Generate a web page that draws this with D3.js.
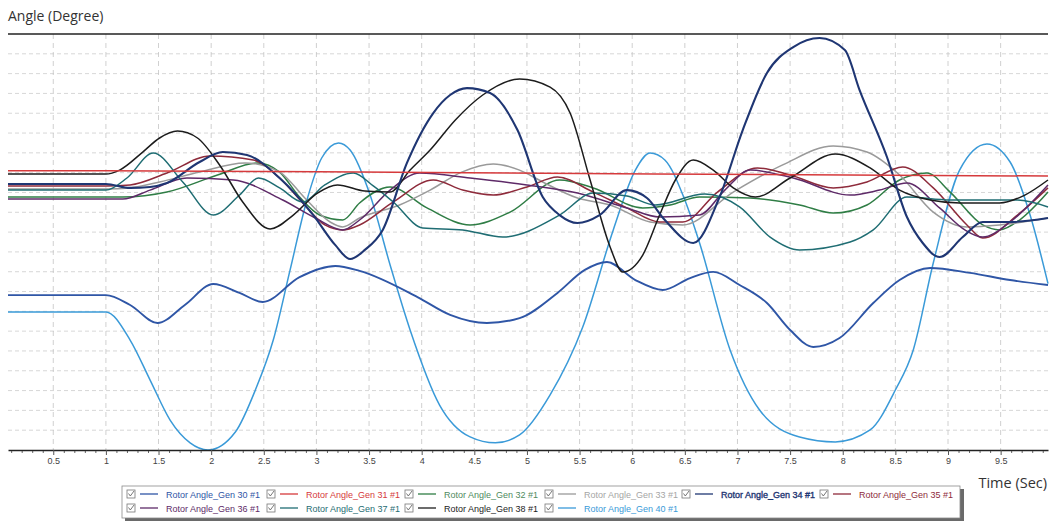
<!DOCTYPE html>
<html>
<head>
    <title>Rotor Angle</title>
    <script src="https://cdn.jsdelivr.net/npm/d3@7/dist/d3.min.js"></script>
    <style>
        body { margin: 0; background: #fff; }
    </style>
</head>
<body>
    <svg width="1053" height="523" id="mainsvg"></svg>
    <script>
        // values: [time (s), angle (deg)]
        const gen30 = [[0.07,-31.8],[1.0,-31.8],[1.23,-36.8],[1.49,-45.9],[1.75,-36.8],[2.02,-26.2],[2.27,-30.7],[2.49,-35.3],[2.84,-22.7],[3.18,-17.1],[3.41,-19.6],[3.96,-32.8],[4.27,-41.8],[4.62,-45.9],[4.93,-43.4],[5.29,-30.7],[5.55,-19.1],[5.76,-15.1],[6.03,-24.2],[6.29,-29.2],[6.55,-23.2],[6.77,-20.1],[7.02,-26.7],[7.28,-35.8],[7.50,-49.4],[7.72,-58.0],[7.97,-53.5],[8.29,-35.8],[8.54,-24.2],[8.83,-18.1],[9.21,-20.6],[9.59,-24.2],[9.95,-26.7]];
        const gen31 = [[0.07,31],[1.0,31],[3.4,30.3],[6.2,29.3],[9.95,28.3]];
        const gen32 = [[0.07,17.7],[1.0,17.7],[1.16,17.7],[1.58,20.2],[2.06,28.8],[2.44,34.9],[2.65,30.3],[2.84,17.7],[3.03,8.6],[3.25,6.1],[3.41,14.7],[3.70,22.8],[4.05,12.2],[4.46,3.6],[4.84,10.1],[5.31,26.3],[5.63,22.3],[6.10,12.2],[6.36,13.7],[6.64,17.7],[7.12,17.2],[7.59,13.7],[7.91,9.6],[8.23,13.7],[8.54,26.3],[8.80,29.8],[9.02,20.2],[9.33,3.6],[9.49,1.1],[9.68,6.1],[9.95,20.2]];
        const gen33 = [[0.07,21.8],[1.0,21.8],[1.23,22.3],[1.51,25.3],[1.89,30.3],[2.32,34.9],[2.65,30.3],[2.89,17.2],[3.13,5.1],[3.25,2.6],[3.41,7.1],[3.79,13.7],[4.08,21.2],[4.38,30.3],[4.68,34.4],[4.93,31.3],[5.15,25.3],[5.48,17.2],[5.79,13.7],[6.17,5.1],[6.48,3.6],[6.96,20.2],[7.43,33.9],[7.91,43.5],[8.23,40.4],[8.54,28.8],[8.86,10.1],[9.18,2.6],[9.49,3.6],[9.95,7.1]];
        const gen34 = [[0.07,24.3],[1.0,24.3],[1.23,22.3],[1.42,22.8],[1.58,24.8],[1.89,35.4],[2.11,40.4],[2.34,38.9],[2.65,27.3],[2.97,8.6],[3.18,-6.6],[3.32,-13.6],[3.46,-9.0],[3.63,1.1],[3.86,34.9],[4.11,60.1],[4.27,69.2],[4.43,72.7],[4.65,70.2],[4.91,51.5],[5.15,17.7],[5.31,8.6],[5.48,4.6],[5.69,8.6],[5.95,21.2],[6.14,17.2],[6.31,6.1],[6.58,-5.5],[6.83,17.7],[7.05,51.5],[7.28,80.3],[7.53,93.4],[7.78,98.0],[8.02,91.9],[8.16,71.7],[8.42,37.9],[8.61,7.6],[8.76,-5.5],[8.92,-12.6],[9.14,-2.5],[9.33,5.1],[9.59,5.1],[9.95,7.1]];
        const gen35 = [[0.07,23.3],[1.0,23.3],[1.23,23.8],[1.58,29.8],[1.99,38.4],[2.40,36.4],[2.65,27.3],[2.87,14.7],[3.08,3.6],[3.25,1.1],[3.41,3.6],[3.73,15.2],[4.11,26.3],[4.39,21.2],[4.68,18.7],[5.00,22.8],[5.29,27.8],[5.63,20.2],[5.95,12.2],[6.26,5.1],[6.48,5.1],[6.81,20.2],[7.19,32.4],[7.50,28.8],[7.91,22.3],[8.23,25.3],[8.57,32.9],[8.86,22.3],[9.18,3.6],[9.33,-3.0],[9.66,8.6],[9.95,22.3]];
        const gen36 = [[0.07,16.7],[1.0,16.7],[1.16,16.7],[1.42,21.2],[1.77,27.3],[2.21,26.3],[2.68,16.2],[2.99,7.1],[3.25,1.1],[3.41,6.1],[3.70,21.2],[3.98,29.8],[4.46,27.3],[5.00,23.8],[5.48,19.7],[5.95,12.2],[6.26,7.6],[6.64,8.6],[6.88,21.2],[7.12,31.3],[7.53,27.3],[8.07,18.7],[8.35,21.2],[8.61,24.8],[8.92,12.2],[9.16,1.1],[9.33,-2.5],[9.59,5.1],[9.95,23.8]];
        const gen37 = [[0.07,21.2],[1.0,21.2],[1.20,27.3],[1.45,39.9],[1.73,25.3],[2.02,8.6],[2.27,18.7],[2.45,27.3],[2.65,22.3],[2.87,15.2],[3.08,23.8],[3.35,29.8],[3.54,23.3],[3.73,15.2],[4.01,2.1],[4.39,1.1],[4.77,-2.5],[5.31,8.6],[5.63,19.7],[5.95,18.2],[6.22,13.7],[6.69,19.2],[7.02,12.7],[7.31,-2.5],[7.59,-9.0],[8.07,-5.0],[8.29,1.1],[8.61,17.7],[9.02,16.2],[9.66,16.2],[9.95,12.7]];
        const gen38 = [[0.07,29.3],[1.0,29.3],[1.13,31.3],[1.35,40.4],[1.51,47.5],[1.68,51.0],[1.87,47.5],[2.08,33.9],[2.30,15.2],[2.56,1.6],[2.78,8.6],[3.01,19.7],[3.20,23.8],[3.46,20.7],[3.70,20.2],[3.89,31.3],[4.08,41.4],[4.32,56.6],[4.58,69.2],[4.93,77.3],[5.22,73.2],[5.41,60.1],[5.60,26.3],[5.79,-7.5],[5.91,-20.1],[6.10,-11.6],[6.26,8.6],[6.41,26.3],[6.58,36.4],[6.77,31.3],[6.96,22.3],[7.17,17.7],[7.50,27.3],[7.93,39.4],[8.26,32.4],[8.54,21.2],[8.83,16.2],[9.11,14.7],[9.49,14.7],[9.73,18.7],[9.95,26.3]];
        const gen40 = [[0.07,-40.3],[1.0,-40.3],[1.23,-54.5],[1.42,-74.7],[1.61,-94.9],[1.80,-106.4],[1.97,-110],[2.23,-100.9],[2.42,-79.7],[2.59,-54.5],[2.75,-19.1],[2.91,16.2],[3.05,37.4],[3.21,45.0],[3.32,41.4],[3.51,18.7],[3.70,-16.6],[3.89,-49.4],[4.17,-87.3],[4.46,-103.4],[4.70,-106.4],[4.93,-102.4],[5.22,-82.2],[5.53,-47.9],[5.82,1.1],[6.03,31.3],[6.17,39.9],[6.31,36.4],[6.50,16.2],[6.64,-5.5],[6.93,-59.5],[7.21,-89.8],[7.59,-103.4],[7.93,-105.9],[8.26,-99.9],[8.50,-79.7],[8.67,-59.5],[8.86,-15.6],[9.11,31.3],[9.37,44.5],[9.59,35.4],[9.78,8.6],[9.95,-26.0]];

        const seriesNames = ['Rotor Angle_Gen 30 #1', 'Rotor Angle_Gen 31 #1', 'Rotor Angle_Gen 32 #1', 'Rotor Angle_Gen 33 #1', 'Rotor Angle_Gen 34 #1',
            'Rotor Angle_Gen 35 #1', 'Rotor Angle_Gen 36 #1', 'Rotor Angle_Gen 37 #1', 'Rotor Angle_Gen 38 #1', 'Rotor Angle_Gen 40 #1'];
        const seriesColors = ['#2f56a6', '#d63a3c', '#2f7d45', '#9a9a9a', '#1f3673', '#8e2b3b', '#5e2a68', '#1f6d73', '#1c1c1c', '#3a9ad8'];
        const timeTicks = [0.5, 1, 1.5, 2, 2.5, 3, 3.5, 4, 4.5, 5, 5.5, 6, 6.5, 7, 7.5, 8, 8.5, 9, 9.5];

        const allSeries = [gen30, gen31, gen32, gen33, gen34, gen35, gen36, gen37, gen38, gen40];

        const svg = d3.select('svg');
        const x = d3.scaleLinear().domain([0.07, 9.95]).range([8, 1048]);
        const y = d3.scaleLinear().domain([-110, 100]).range([450, 34]);

        // grid
        svg.append('g').selectAll('line').data(d3.range(-100, 100, 10)).join('line')
            .attr('x1', x(0.07)).attr('x2', x(9.95))
            .attr('y1', d => y(d)).attr('y2', d => y(d))
            .attr('stroke', '#cdcdcd').attr('stroke-width', 0.8).attr('stroke-dasharray', '4,3');
        svg.append('g').selectAll('line').data(timeTicks).join('line')
            .attr('x1', d => x(d)).attr('x2', d => x(d))
            .attr('y1', y(100)).attr('y2', y(-110))
            .attr('stroke', '#c4c4c4').attr('stroke-width', 0.8).attr('stroke-dasharray', '5,4');

        // top border
        svg.append('line')
            .attr('x1', x(0.07)).attr('x2', x(9.95)).attr('y1', y(100)).attr('y2', y(100))
            .attr('stroke', '#222').attr('stroke-width', 1.4);

        // curves
        const line = d3.line().x(d => x(d[0])).y(d => y(d[1])).curve(d3.curveMonotoneX);
        const drawOrder = [9, 0, 2, 3, 5, 6, 7, 8, 4, 1];
        svg.append('g').selectAll('path').data(drawOrder).join('path')
            .attr('fill', 'none')
            .attr('stroke', i => seriesColors[i])
            .attr('stroke-width', i => i === 4 ? 2.1 : (i === 0 ? 1.9 : 1.5))
            .attr('d', i => line(allSeries[i]));

        // x axis
        const minorTicks = d3.range(1, 100).map(d => d / 10).filter(d => d % 0.5 !== 0 && d < 9.95);
        svg.append('g').attr('transform', 'translate(0,450)')
            .call(d3.axisBottom(x).tickValues(minorTicks).tickSize(3).tickFormat('').tickSizeOuter(0))
            .call(g => g.select('.domain').remove())
            .call(g => g.selectAll('.tick line').attr('stroke', '#666'));
        const xAxis = svg.append('g').attr('transform', 'translate(0,450)')
            .call(d3.axisBottom(x).tickValues(timeTicks).tickSize(5).tickSizeOuter(0).tickFormat(d3.format('~g')));
        xAxis.select('.domain').attr('stroke', '#222').attr('stroke-width', 1.6);
        xAxis.selectAll('.tick line').attr('stroke', '#555');
        xAxis.selectAll('.tick text').attr('font-family', 'Liberation Sans, Arial, sans-serif')
            .attr('font-size', 9).attr('fill', '#444');

        // titles
        svg.append('text').attr('x', 8).attr('y', 21)
            .attr('font-family', 'Open Sans, Noto Sans, sans-serif').attr('font-size', 14).attr('fill', '#333')
            .text('Angle (Degree)');
        svg.append('text').attr('x', 1047).attr('y', 488).attr('text-anchor', 'end')
            .attr('font-family', 'Open Sans, Noto Sans, sans-serif').attr('font-size', 14.5).attr('fill', '#333')
            .text('Time (Sec)');

        // legend
        const legendCols = [127, 267, 405, 545, 682, 820];
        const legendRows = [498, 512];
        svg.append('rect').attr('x', 125).attr('y', 489).attr('width', 839).attr('height', 32).attr('fill', '#6a6a6a');
        svg.append('rect').attr('x', 122).attr('y', 486).attr('width', 838).attr('height', 32)
            .attr('fill', '#fff').attr('stroke', '#8a8a8a').attr('stroke-width', 0.8);

        const entries = svg.append('g').selectAll('g').data(seriesNames).join('g')
            .attr('transform', (d, i) => `translate(${legendCols[i % 6]},${legendRows[Math.floor(i / 6)]})`);
        entries.append('rect').attr('x', 0).attr('y', -8).attr('width', 8).attr('height', 8)
            .attr('fill', '#fff').attr('stroke', '#777').attr('stroke-width', 0.8);
        entries.append('path').attr('d', 'M1.5,-4.5 L3.3,-2 L7,-7')
            .attr('fill', 'none').attr('stroke', '#666').attr('stroke-width', 0.9);
        entries.append('line').attr('x1', 13).attr('x2', 31).attr('y1', -4).attr('y2', -4)
            .attr('stroke', (d, i) => seriesColors[i]).attr('stroke-width', 1.3);
        entries.append('text').attr('x', 39).attr('y', 0)
            .attr('font-family', 'Liberation Sans, Arial, sans-serif').attr('font-size', 9)
            .attr('fill', (d, i) => i === 3 ? '#a5a5a5' : (i === 2 ? '#4f8a60' : seriesColors[i]))
            // Gen 34 label looks heavier in the original, fake it with a thin stroke
            .attr('stroke', (d, i) => i === 4 ? seriesColors[i] : 'none')
            .attr('stroke-width', 0.35)
            .text(d => d);
    </script>
</body>
</html>
